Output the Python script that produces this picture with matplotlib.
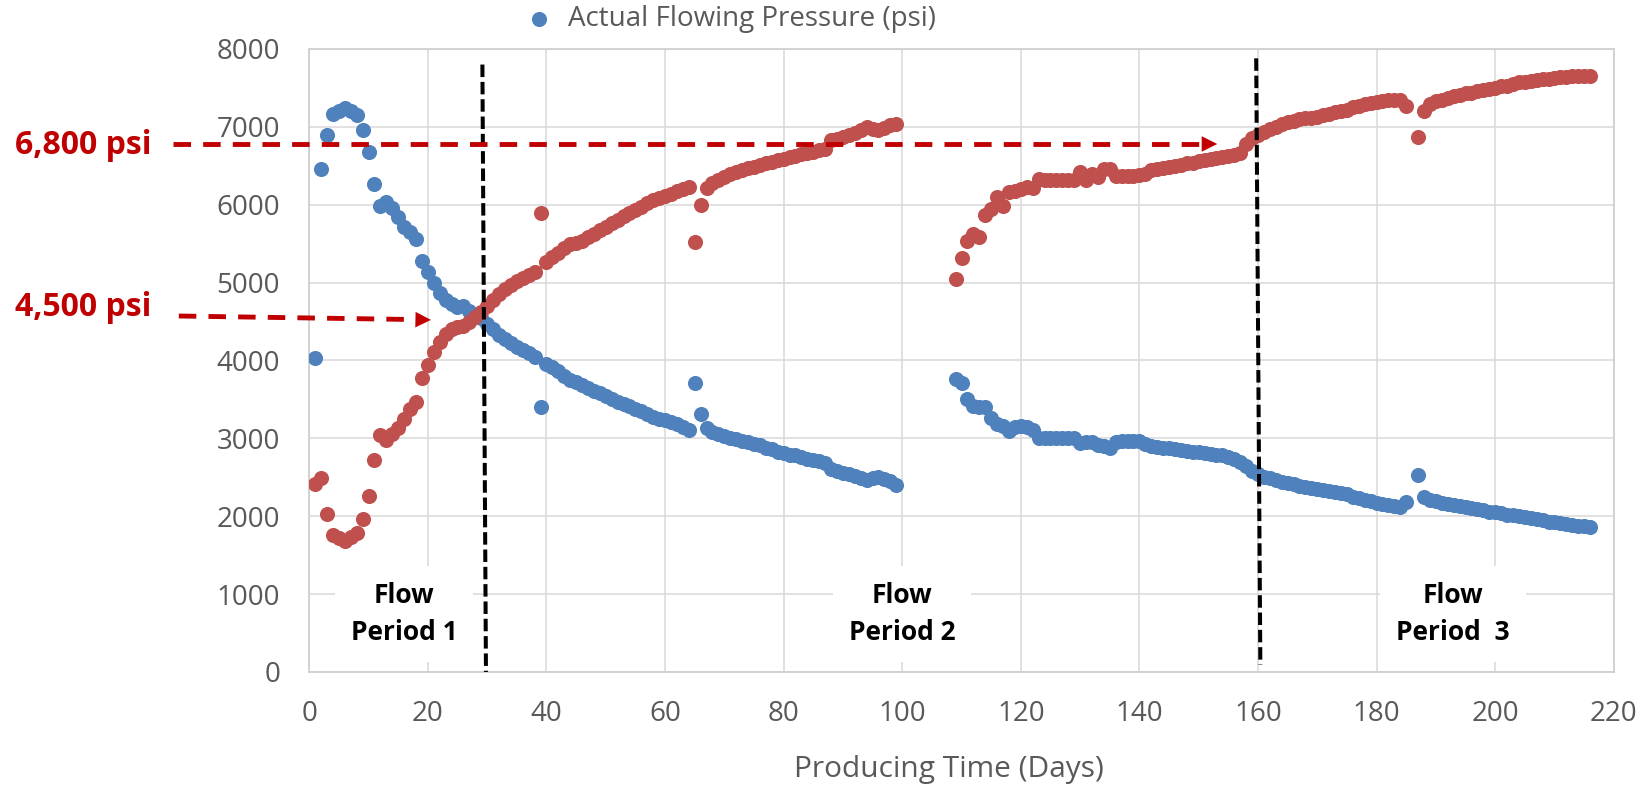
import matplotlib
matplotlib.use("Agg")
import matplotlib.pyplot as plt

plt.rcParams['font.family'] = ['Open Sans', 'DejaVu Sans']

# producing days (gaps: 100-108 shut in, 186 missing)
days_a = list(range(1, 100))
days_b = list(range(109, 186))
days_c = list(range(187, 217))

# actual flowing pressure (psi) - blue
blue_a = [4030, 6460, 6900, 7160, 7200, 7240, 7200, 7150, 6960, 6680,
          6270, 5980, 6030, 5960, 5840, 5720, 5650, 5560, 5280, 5140,
          4990, 4870, 4780, 4720, 4690, 4700, 4640, 4590, 4540, 4470,
          4400, 4330, 4270, 4220, 4170, 4130, 4090, 4050, 3400, 3960,
          3910, 3860, 3800, 3750, 3720, 3690, 3650, 3610, 3580, 3540,
          3500, 3470, 3440, 3410, 3380, 3350, 3310, 3280, 3250, 3230,
          3210, 3180, 3150, 3110, 3710, 3310, 3130, 3080, 3050, 3030,
          3010, 2990, 2970, 2950, 2930, 2910, 2880, 2860, 2830, 2810,
          2790, 2780, 2760, 2740, 2720, 2710, 2680, 2600, 2580, 2560,
          2540, 2520, 2490, 2470, 2490, 2500, 2480, 2450, 2400]
blue_b = [3760, 3710, 3500, 3410, 3400, 3400, 3260, 3190, 3160, 3100,
          3150, 3160, 3140, 3110, 3010, 3000, 3000, 3000, 3000, 3000,
          3000, 2940, 2950, 2950, 2920, 2900, 2880, 2950, 2960, 2960,
          2960, 2960, 2930, 2900, 2890, 2880, 2870, 2860, 2850, 2840,
          2830, 2820, 2810, 2800, 2790, 2780, 2760, 2740, 2700, 2640,
          2580, 2540, 2510, 2490, 2460, 2440, 2430, 2410, 2390, 2380,
          2360, 2350, 2340, 2330, 2310, 2300, 2280, 2250, 2230, 2210,
          2190, 2170, 2160, 2150, 2130, 2120, 2180]
blue_c = [2530, 2250, 2210, 2190, 2170, 2160, 2150, 2130, 2120, 2110,
          2090, 2080, 2060, 2050, 2040, 2020, 2010, 2000, 1990, 1980,
          1970, 1950, 1930, 1920, 1910, 1900, 1890, 1880, 1870, 1860]

# second pressure series - red
red_a = [2420, 2490, 2030, 1760, 1720, 1680, 1730, 1790, 1960, 2260,
         2720, 3040, 2980, 3050, 3130, 3250, 3380, 3470, 3780, 3940,
         4110, 4240, 4340, 4400, 4430, 4440, 4490, 4560, 4620, 4700,
         4780, 4860, 4920, 4970, 5020, 5060, 5100, 5140, 5890, 5270,
         5330, 5380, 5440, 5500, 5510, 5540, 5580, 5620, 5680, 5720,
         5770, 5810, 5850, 5890, 5930, 5970, 6020, 6060, 6090, 6110,
         6140, 6170, 6200, 6230, 5520, 6000, 6210, 6280, 6320, 6360,
         6390, 6420, 6440, 6470, 6490, 6510, 6530, 6550, 6570, 6590,
         6610, 6630, 6650, 6670, 6680, 6700, 6710, 6830, 6850, 6870,
         6890, 6920, 6960, 7000, 6970, 6960, 6990, 7020, 7040]
red_b = [5050, 5310, 5530, 5620, 5590, 5870, 5950, 6100, 5980, 6160,
         6180, 6200, 6230, 6210, 6330, 6320, 6320, 6320, 6320, 6320,
         6320, 6420, 6320, 6400, 6360, 6460, 6460, 6370, 6370, 6370,
         6370, 6380, 6400, 6440, 6460, 6470, 6490, 6500, 6510, 6530,
         6540, 6560, 6570, 6590, 6600, 6610, 6630, 6640, 6660, 6780,
         6860, 6890, 6930, 6970, 7000, 7040, 7060, 7080, 7100, 7110,
         7120, 7130, 7150, 7170, 7190, 7210, 7220, 7250, 7270, 7290,
         7310, 7320, 7330, 7340, 7350, 7350, 7270]
red_c = [6870, 7200, 7290, 7330, 7350, 7370, 7390, 7410, 7430, 7440,
         7460, 7470, 7490, 7500, 7520, 7530, 7550, 7570, 7580, 7590,
         7600, 7610, 7620, 7630, 7640, 7640, 7650, 7650, 7650, 7650]

days = days_a + days_b + days_c
blue = blue_a + blue_b + blue_c
red = red_a + red_b + red_c

BLUE = '#4F81BD'
RED = '#C0504D'
DARKRED = '#C00000'
GRAY = '#595959'
GRID = '#D9D9D9'

fig = plt.figure(figsize=(16.45, 7.85), dpi=100)
ax = fig.add_axes([0.188, 0.144, 0.793, 0.7936])

ax.scatter(days, blue, s=118, color=BLUE, linewidths=0, zorder=3,
           label='Actual Flowing Pressure (psi)')
ax.scatter(days, red, s=118, color=RED, linewidths=0, zorder=3)

ax.set_xlim(0, 220)
ax.set_ylim(0, 8000)
ax.set_xticks(range(0, 221, 20))
ax.set_yticks(range(0, 8001, 1000))
ax.grid(True, color=GRID, lw=1.1, zorder=0)
ax.set_axisbelow(True)
for sp in ax.spines.values():
    sp.set_color('#D0D0D0')
    sp.set_linewidth(1.3)
ax.tick_params(length=0, labelsize=20, labelcolor=GRAY)
ax.tick_params(axis='x', pad=20)
ax.tick_params(axis='y', pad=21)
ax.set_xlabel('Producing Time (Days)', fontsize=21.5, color=GRAY)
ax.xaxis.set_label_coords(0.49, -0.156)
ax.xaxis.label.set_va('center')

# flow period boundaries
ax.plot([29.2, 29.8], [7800, 0], color='black', lw=2.9,
        ls=(0, (3.1, 1.2)), zorder=4, clip_on=False)
ax.plot([159.7, 160.4], [7880, 90], color='black', lw=2.9,
        ls=(0, (3.1, 1.2)), zorder=4, clip_on=False)

# pressure call-out arrows
ax.plot([-22.9, 150.5], [6780, 6780], color=DARKRED, lw=3.5,
        ls=(0, (3.6, 2.5)), clip_on=False, zorder=5)
ax.annotate('', xy=(153.6, 6780), xytext=(150.0, 6780),
            arrowprops=dict(arrowstyle='-|>', color=DARKRED, lw=0,
                            mutation_scale=28), annotation_clip=False, zorder=5)
ax.plot([-22.0, 18.2], [4571, 4525], color=DARKRED, lw=3.5,
        ls=(0, (3.6, 2.5)), clip_on=False, zorder=5)
ax.annotate('', xy=(21.0, 4520), xytext=(17.5, 4525),
            arrowprops=dict(arrowstyle='-|>', color=DARKRED, lw=0,
                            mutation_scale=28), annotation_clip=False, zorder=5)

fig.text(15 / 1645, 1 - 145 / 785, '6,800 psi', fontsize=23, fontweight='bold',
         color=DARKRED, ha='left', va='center')
fig.text(15 / 1645, 1 - 308 / 785, '4,500 psi', fontsize=23, fontweight='bold',
         color=DARKRED, ha='left', va='center')

box = dict(boxstyle='square,pad=0.6', facecolor='white', edgecolor='none')
for x, txt in [(16.0, 'Flow\nPeriod 1'), (100.0, 'Flow\nPeriod 2'), (192.9, 'Flow\nPeriod  3')]:
    ax.text(x, 745, txt, fontsize=19, fontweight='bold', color='black',
            ha='center', va='center', linespacing=1.5, bbox=box, zorder=2)

fig.legend(loc='center', bbox_to_anchor=(0.44, 0.976), frameon=False,
           fontsize=20, labelcolor=GRAY, handletextpad=0.05, markerscale=1.0)

fig.savefig('out.png', dpi=100)
